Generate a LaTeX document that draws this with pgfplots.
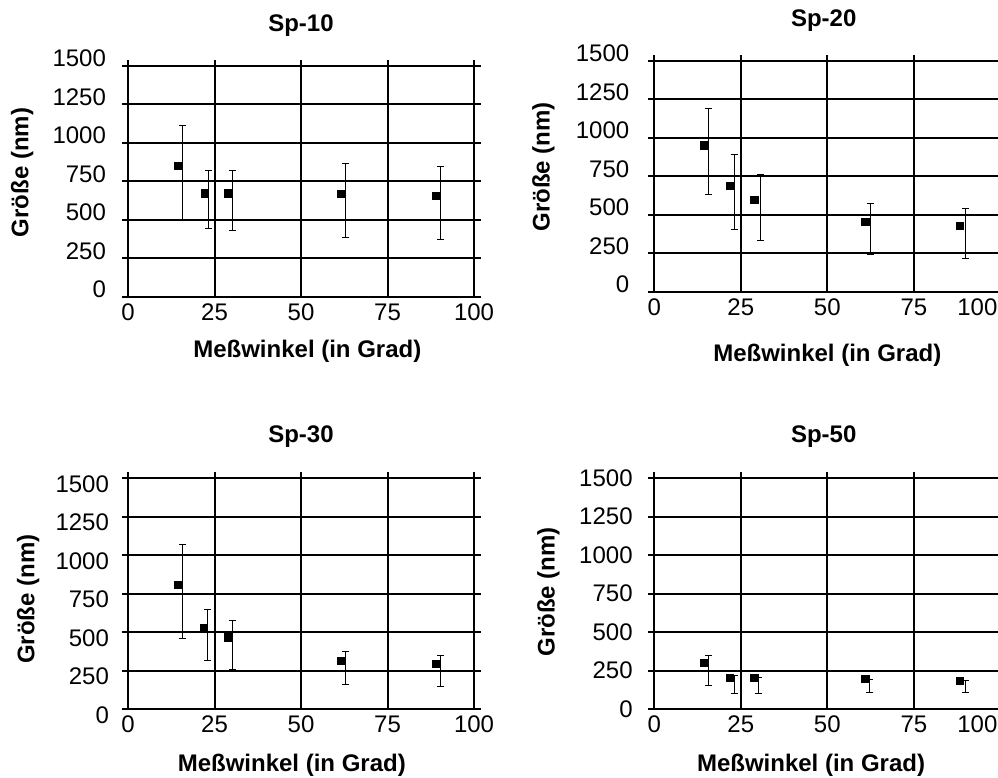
\documentclass[border=0pt]{standalone}
\usepackage{fontspec}
\setmainfont{Liberation Sans}
\usepackage{pgfplots}
\pgfplotsset{compat=1.18}
\pgfplotsset{
  panel/.style={
    scale only axis, width=176.5pt, height=118.5pt,
    xmin=0, xmax=102, ymin=0, ymax=1539,
    xtick={0,25,50,75,100}, ytick={0,250,500,750,1000,1250,1500},
    axis lines=left, axis line style={-, black, line width=1pt},
    grid=major, major grid style={black, line width=1pt},
    tick align=outside, major tick length=3pt,
    xtick style={draw=none}, ytick style={black, line width=1pt},
    /pgf/number format/assume math mode=true,
    /pgf/number format/set thousands separator={},
    tick label style={font=\fontsize{12}{14}\selectfont},
    xticklabel style={yshift=3pt},
    title style={font=\fontsize{12}{14}\selectfont\bfseries, anchor=center, yshift=0pt},
    label style={font=\fontsize{12}{14}\selectfont\bfseries, anchor=center},
    ylabel={Größe (nm)}, xlabel={Meßwinkel (in Grad)},
    clip=false,
  },
  cut100/.style={xticklabels={0,25,50,75,{\llap{100\hspace{1.5pt}}}}},
  mk/.style={only marks, mark=square*, mark size=1.8pt, black},
  eb/.style={draw=none, mark=none,
    error bars/.cd, y dir=both, y explicit,
    error bar style={draw=black, line width=0.5pt},
    error mark options={rotate=90, mark size=1.75pt, line width=0.5pt, draw=black}},
}
\begin{document}
\begin{tikzpicture}
% Sp-10
\begin{axis}[panel, at={(64pt,240.65pt)}, anchor=south west,
  title={Sp-10}, title style={at={(axis description cs:0.49,1.092)}},
  xlabel style={at={(axis description cs:0.508,-0.232)}},
  ylabel style={at={(axis description cs:-0.30,0.524)}},
  yticklabel style={xshift=-4.5pt, yshift=3.5pt}]
\addplot[mk] coordinates {(14.5,850) (22.2,671) (28.9,671) (61.5,666) (88.9,653)};
\addplot[eb] coordinates {
 (15.8,850) += (0,264) -= (0,350)
 (23.4,671) += (0,147) -= (0,227)
 (30.1,671) += (0,147) -= (0,243)
 (62.9,666) += (0,200) -= (0,283)
 (90.4,653) += (0,195) -= (0,279)};
\end{axis}
% Sp-20
\begin{axis}[panel, cut100, at={(327.15pt,243.15pt)}, anchor=south west,
  title={Sp-20}, title style={at={(axis description cs:0.48,1.093)}},
  xlabel style={at={(axis description cs:0.49,-0.267)}},
  ylabel style={at={(axis description cs:-0.314,0.527)}},
  yticklabel style={xshift=-6pt, yshift=3.5pt}]
\addplot[mk] coordinates {(14.3,950) (21.8,688) (28.9,597) (61.0,454) (88.3,428)};
\addplot[eb] coordinates {
 (15.6,950) += (0,237) -= (0,320)
 (23.1,688) += (0,200) -= (0,282)
 (30.7,597) += (0,167) -= (0,263)
 (62.5,454) += (0,121) -= (0,211)
 (89.8,428) += (0,110) -= (0,211)};
\end{axis}
% Sp-30
\begin{axis}[panel, at={(64pt,34.5pt)}, anchor=south west,
  title={Sp-30}, title style={at={(axis description cs:0.49,1.097)}},
  xlabel style={at={(axis description cs:0.464,-0.236)}},
  ylabel style={at={(axis description cs:-0.283,0.464)}},
  yticklabel style={xshift=-3pt, yshift=-3pt}]
\addplot[mk] coordinates {(14.5,804) (22.0,526) (28.8,465) (61.5,313) (89.0,291)};
\addplot[eb] coordinates {
 (15.7,804) += (0,265) -= (0,346)
 (23.1,526) += (0,119) -= (0,211)
 (30.1,465) += (0,111) -= (0,211)
 (62.9,313) += (0,63) -= (0,152)
 (90.4,291) += (0,57) -= (0,145)};
\end{axis}
% Sp-50
\begin{axis}[panel, cut100, at={(327.15pt,34.5pt)}, anchor=south west,
  title={Sp-50}, title style={at={(axis description cs:0.48,1.097)}},
  xlabel style={at={(axis description cs:0.444,-0.236)}},
  ylabel style={at={(axis description cs:-0.30,0.495)}},
  yticklabel style={xshift=-4.3pt}]
\addplot[mk] coordinates {(14.3,298) (21.8,200) (28.9,200) (61.0,194) (88.3,183)};
\addplot[eb] coordinates {
 (15.7,298) += (0,52) -= (0,144)
 (23.2,200) += (0,15) -= (0,100)
 (30.2,200) += (0,7) -= (0,100)
 (62.3,194) += (0,0) -= (0,85)
 (89.8,183) += (0,0) -= (0,74)};
\end{axis}
\pgfresetboundingbox
\path[use as bounding box] (0,0) rectangle (499pt,389pt);
\end{tikzpicture}
\end{document}
